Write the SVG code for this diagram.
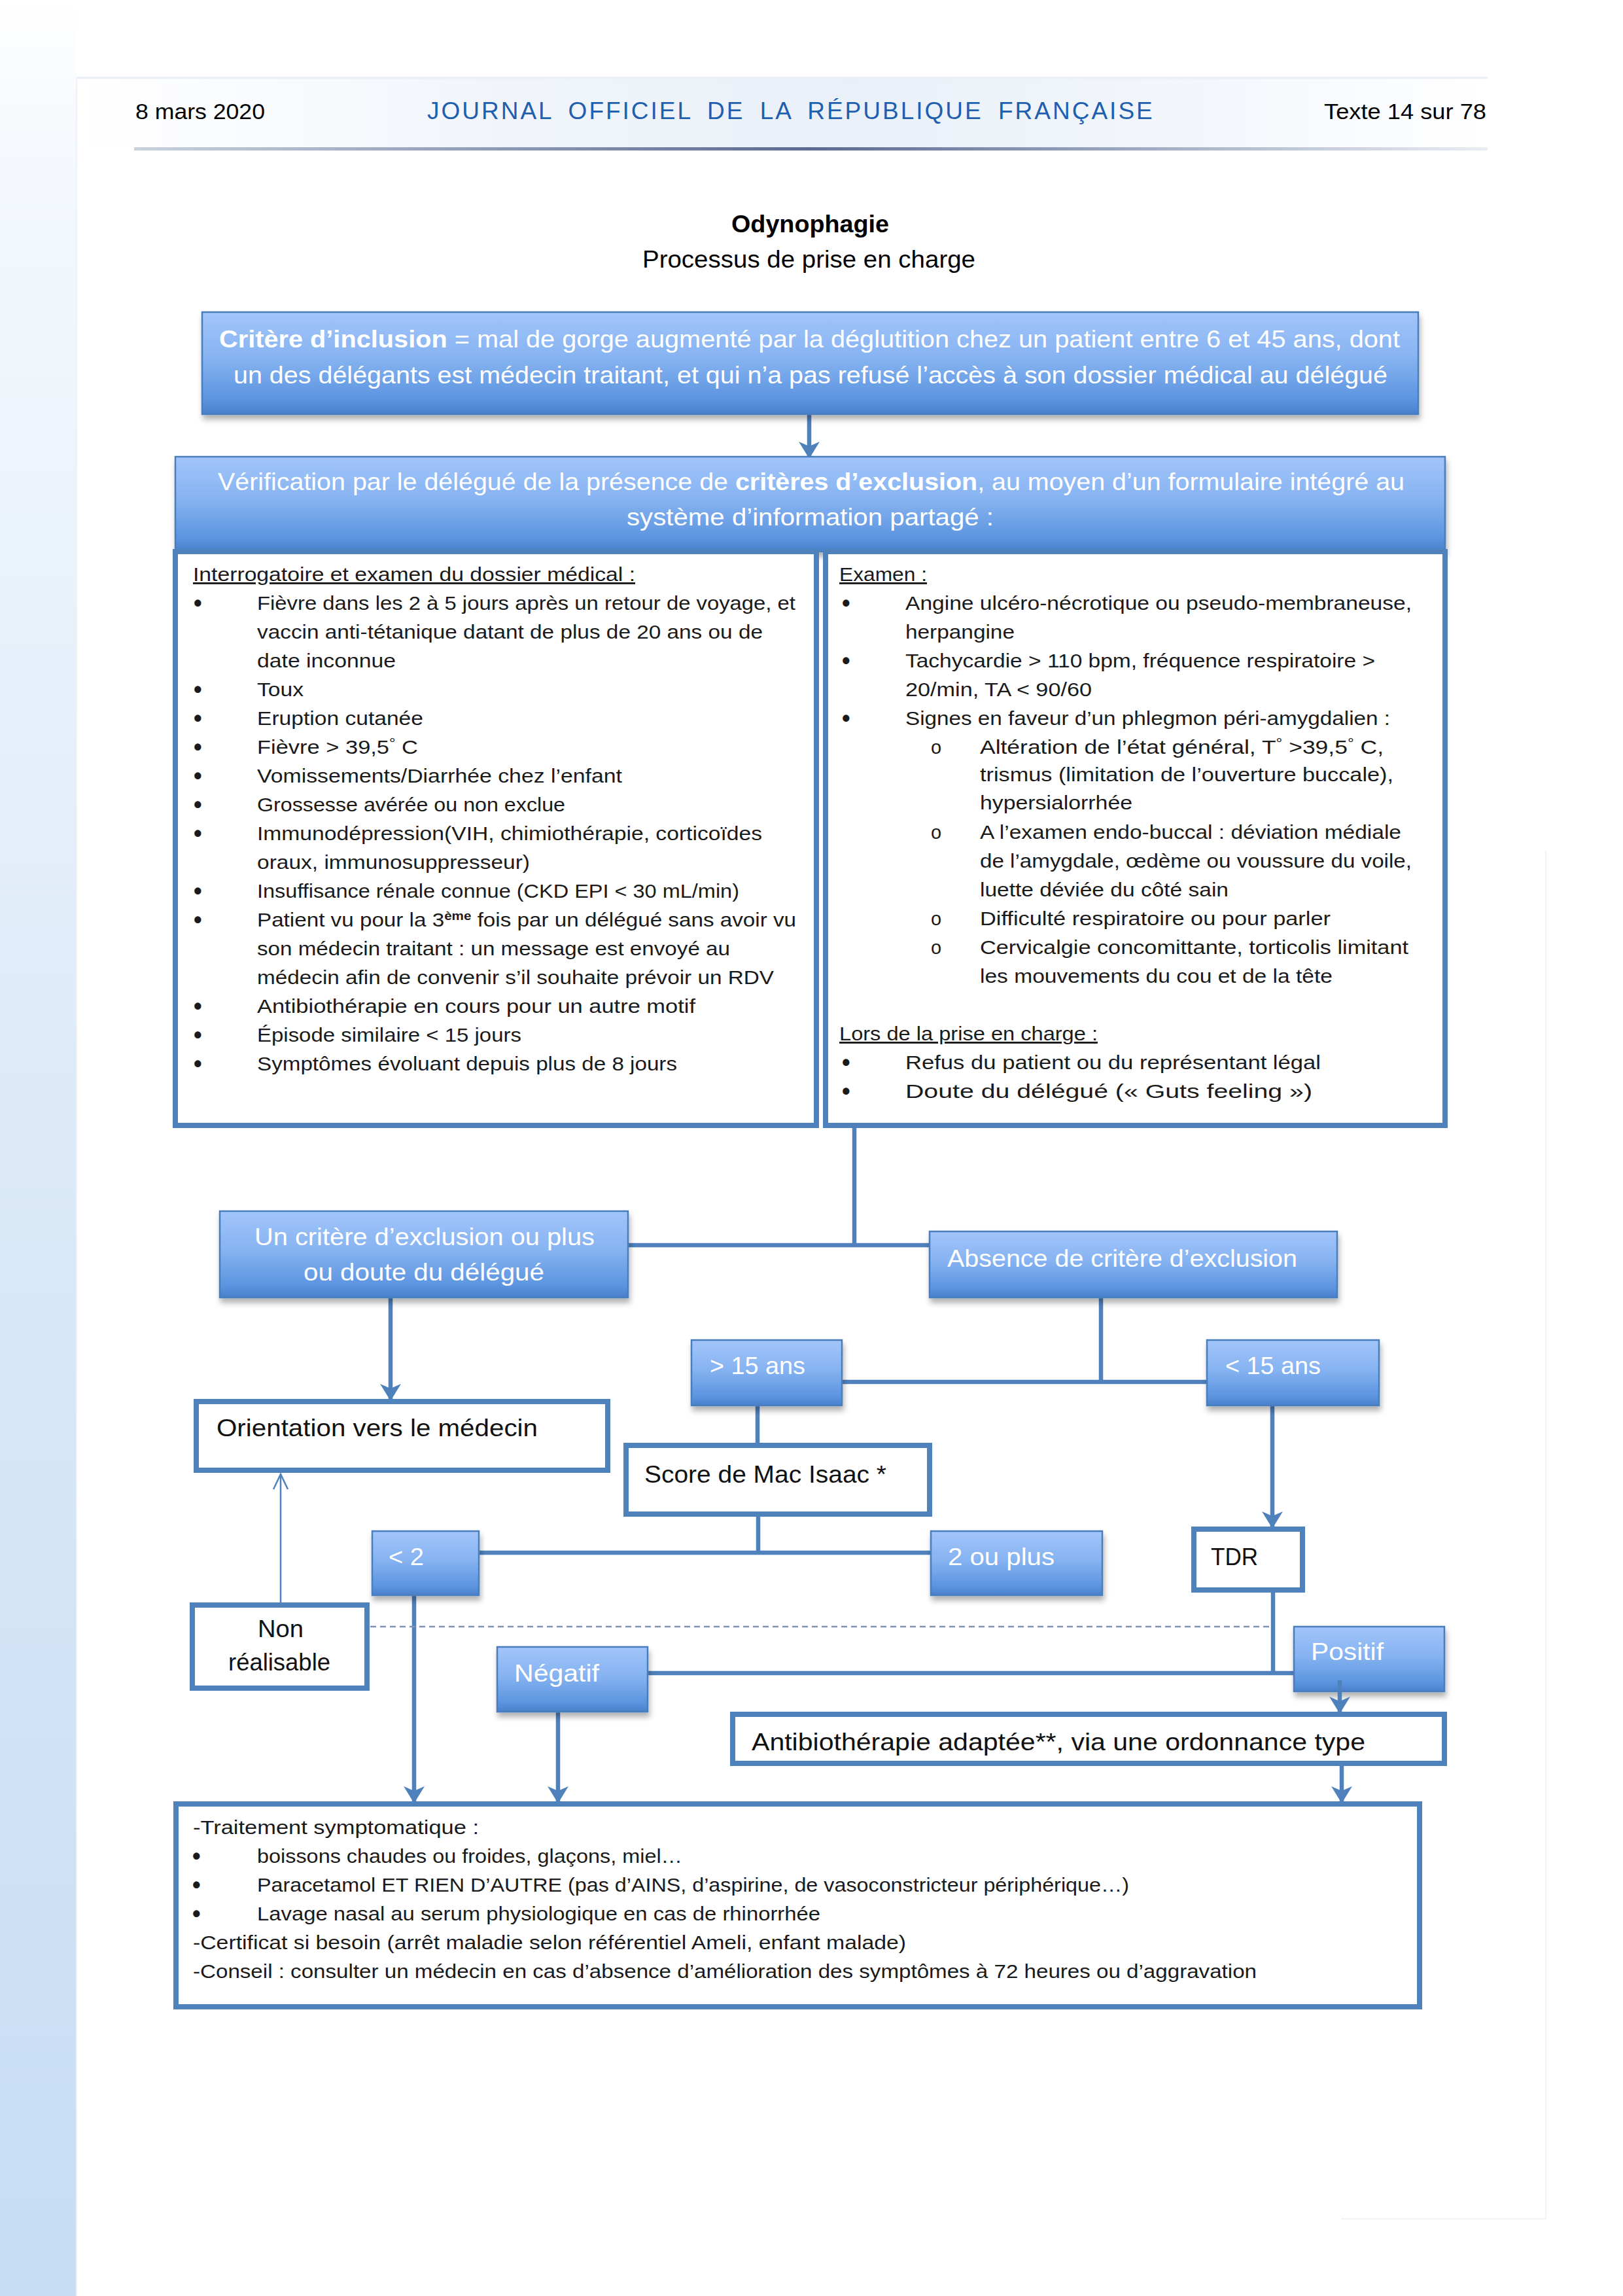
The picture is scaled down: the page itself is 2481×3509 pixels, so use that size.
<svg xmlns="http://www.w3.org/2000/svg" width="2481" height="3509" viewBox="0 0 2481 3509">
<defs>
  <linearGradient id="gBlue" x1="0" y1="0" x2="0" y2="1">
    <stop offset="0" stop-color="#a2c5fa"/>
    <stop offset="0.45" stop-color="#86b3f1"/>
    <stop offset="0.85" stop-color="#5d95e0"/>
    <stop offset="1" stop-color="#4a80cc"/>
  </linearGradient>
  <linearGradient id="gStrip" x1="0" y1="0" x2="0" y2="1">
    <stop offset="0" stop-color="#ffffff"/>
    <stop offset="0.06" stop-color="#f5f9fd"/>
    <stop offset="0.5" stop-color="#dbe9f8"/>
    <stop offset="1" stop-color="#c6ddf4"/>
  </linearGradient>
  <linearGradient id="gRule" x1="0" y1="0" x2="1" y2="0">
    <stop offset="0" stop-color="#c9d1dc"/>
    <stop offset="0.5" stop-color="#5c6a92"/>
    <stop offset="1" stop-color="#e9edf3"/>
  </linearGradient>
  <linearGradient id="gHead" x1="0" y1="0" x2="1" y2="0">
    <stop offset="0" stop-color="#ffffff"/>
    <stop offset="0.3" stop-color="#f1f5fb"/>
    <stop offset="0.55" stop-color="#eaf0f8"/>
    <stop offset="0.8" stop-color="#f3f7fc"/>
    <stop offset="1" stop-color="#ffffff"/>
  </linearGradient>
  <filter id="shadow" x="-5%" y="-10%" width="110%" height="130%">
    <feDropShadow dx="2" dy="7" stdDeviation="4" flood-color="#000000" flood-opacity="0.3"/>
  </filter>
  <marker id="arrow" markerUnits="userSpaceOnUse" markerWidth="26" markerHeight="32" viewBox="0 0 26 32" refX="25" refY="16" orient="auto">
    <path d="M0,0 L26,16 L0,32 L7,16 z" fill="#4f81bd"/>
  </marker>
  <marker id="arrowThin" markerUnits="userSpaceOnUse" markerWidth="26" markerHeight="24" viewBox="0 0 26 24" refX="24" refY="12" orient="auto">
    <path d="M1,1 L24,12 L1,23" fill="none" stroke="#4f81bd" stroke-width="2.5"/>
  </marker>
</defs>
<style>
  .f{font-family:"Liberation Sans",Arial,sans-serif}
  .gbox{fill:url(#gBlue);stroke:#4a7dbb;stroke-width:2.5;filter:url(#shadow)}
  .wbox{fill:#ffffff;stroke:#4f81bd;stroke-width:8}
  .conn{stroke:#4f81bd;stroke-width:6.5;fill:none}
  .wt{fill:#ffffff;font-size:37px}
  .lbl{fill:#111111;font-size:37px}
  .li{fill:#1a1a1a;font-size:29px}
  .bu{font-size:36px;font-weight:bold}
  .ul{text-decoration:underline}
</style>

<g id="page">
  <rect x="0" y="0" width="2481" height="3509" fill="#ffffff"/>
  <rect x="0" y="0" width="117" height="3509" fill="url(#gStrip)"/>
  <rect x="117" y="119" width="2157" height="106" fill="url(#gHead)"/>
  <line x1="117" y1="119" x2="2274" y2="119" stroke="#e9eef4" stroke-width="3"/>
  <line x1="117" y1="119" x2="117" y2="3509" stroke="#eef3f8" stroke-width="2"/>
  <path d="M2363,1300 L2363,3391 L2050,3391" fill="none" stroke="#f1f4f7" stroke-width="2"/>
  <rect x="205" y="225" width="2069" height="5" fill="url(#gRule)"/>
</g>

<g id="header" class="f">
  <text x="207" y="182" font-size="34" fill="#000" textLength="198" lengthAdjust="spacingAndGlyphs">8  mars 2020</text>
  <text x="653" y="182" font-size="37" fill="#1f5fb0" letter-spacing="3" word-spacing="10">JOURNAL OFFICIEL DE LA RÉPUBLIQUE FRANÇAISE</text>
  <text x="2024" y="182" font-size="34" fill="#000" textLength="248" lengthAdjust="spacingAndGlyphs">Texte 14 sur 78</text>
</g>

<g id="title" class="f">
  <text x="1118" y="355" font-size="36" font-weight="bold" fill="#000" textLength="241" lengthAdjust="spacingAndGlyphs">Odynophagie</text>
  <text x="982" y="409" font-size="36" fill="#000" textLength="509" lengthAdjust="spacingAndGlyphs">Processus de prise en charge</text>
</g>

<g id="connectors">
  <line class="conn" x1="1237" y1="633" x2="1237" y2="700" marker-end="url(#arrow)"/>
  <polyline class="conn" points="1306,1720 1306,1903"/>
  <line class="conn" x1="961" y1="1903" x2="1421" y2="1903"/>
  <line class="conn" x1="597" y1="1983" x2="597" y2="2140" marker-end="url(#arrow)"/>
  <line class="conn" x1="1683" y1="1983" x2="1683" y2="2112"/>
  <line class="conn" x1="1287" y1="2112" x2="1845" y2="2112"/>
  <line class="conn" x1="1158" y1="2148" x2="1158" y2="2209"/>
  <line class="conn" x1="1945" y1="2148" x2="1945" y2="2335" marker-end="url(#arrow)"/>
  <line class="conn" x1="1159" y1="2314" x2="1159" y2="2373"/>
  <line class="conn" x1="732" y1="2373" x2="1423" y2="2373"/>
  <line class="conn" x1="633" y1="2438" x2="633" y2="2755" marker-end="url(#arrow)"/>
  <line class="conn" x1="1946" y1="2430" x2="1946" y2="2557"/>
  <line class="conn" x1="990" y1="2557" x2="1978" y2="2557"/>
  <line class="conn" x1="853" y1="2616" x2="853" y2="2755" marker-end="url(#arrow)"/>
  <line class="conn" x1="2051" y1="2695" x2="2051" y2="2755" marker-end="url(#arrow)"/>
  <line x1="429" y1="2453" x2="429" y2="2253" stroke="#4f81bd" stroke-width="2.5" marker-end="url(#arrowThin)"/>
  <line x1="566" y1="2486" x2="1946" y2="2486" stroke="#7f93b5" stroke-width="2.5" stroke-dasharray="9 6"/>
</g>

<g id="inclusion" class="f">
  <rect class="gbox" x="309" y="477" width="1859" height="156"/>
  <text class="wt" x="335" y="531" textLength="1805" lengthAdjust="spacingAndGlyphs"><tspan font-weight="bold">Critère d’inclusion</tspan> = mal de gorge augmenté par la déglutition chez un patient entre 6 et 45 ans, dont</text>
  <text class="wt" x="357" y="586" textLength="1764" lengthAdjust="spacingAndGlyphs">un des délégants est médecin traitant, et qui n’a pas refusé l’accès à son dossier médical au délégué</text>
</g>

<g id="verification" class="f">
  <rect class="gbox" x="268" y="698" width="1941" height="145"/>
  <text class="wt" x="333" y="749" textLength="1814" lengthAdjust="spacingAndGlyphs">Vérification par le délégué de la présence de <tspan font-weight="bold">critères d’exclusion</tspan>, au moyen d’un formulaire intégré au</text>
  <text class="wt" x="958" y="803" textLength="561" lengthAdjust="spacingAndGlyphs">système d’information partagé :</text>
</g>

<g id="interrogatoire" class="f">
  <rect class="wbox" x="268" y="843" width="980" height="877"/>
  <text class="li ul" x="295" y="888" textLength="676" lengthAdjust="spacingAndGlyphs">Interrogatoire et examen du dossier médical :</text>
  <g class="li">
    <g class="bu">
      <text x="296" y="934">•</text>
      <text x="296" y="1066">•</text>
      <text x="296" y="1110">•</text>
      <text x="296" y="1154">•</text>
      <text x="296" y="1198">•</text>
      <text x="296" y="1242">•</text>
      <text x="296" y="1286">•</text>
      <text x="296" y="1374">•</text>
      <text x="296" y="1418">•</text>
      <text x="296" y="1550">•</text>
      <text x="296" y="1594">•</text>
      <text x="296" y="1638">•</text>
    </g>
    <text x="393" y="932" textLength="823" lengthAdjust="spacingAndGlyphs">Fièvre dans les 2 à 5 jours après un retour de voyage, et</text>
    <text x="393" y="976" textLength="773" lengthAdjust="spacingAndGlyphs">vaccin anti-tétanique datant de plus de 20 ans ou de</text>
    <text x="393" y="1020" textLength="212" lengthAdjust="spacingAndGlyphs">date inconnue</text>
    <text x="393" y="1064" textLength="71" lengthAdjust="spacingAndGlyphs">Toux</text>
    <text x="393" y="1108" textLength="254" lengthAdjust="spacingAndGlyphs">Eruption cutanée</text>
    <text x="393" y="1152" textLength="246" lengthAdjust="spacingAndGlyphs">Fièvre &gt; 39,5<tspan dy="-9" font-size="20">°</tspan><tspan dy="9">   C</tspan></text>
    <text x="393" y="1196" textLength="558" lengthAdjust="spacingAndGlyphs">Vomissements/Diarrhée chez l’enfant</text>
    <text x="393" y="1240" textLength="471" lengthAdjust="spacingAndGlyphs">Grossesse avérée ou non exclue</text>
    <text x="393" y="1284" textLength="772" lengthAdjust="spacingAndGlyphs">Immunodépression(VIH, chimiothérapie, corticoïdes</text>
    <text x="393" y="1328" textLength="417" lengthAdjust="spacingAndGlyphs">oraux, immunosuppresseur)</text>
    <text x="393" y="1372" textLength="737" lengthAdjust="spacingAndGlyphs">Insuffisance rénale connue (CKD EPI &lt; 30 mL/min)</text>
    <text x="393" y="1416" textLength="824" lengthAdjust="spacingAndGlyphs">Patient vu pour la 3<tspan dy="-10" font-size="18" font-weight="bold">ème</tspan><tspan dy="10"> fois par un délégué sans avoir vu</tspan></text>
    <text x="393" y="1460" textLength="723" lengthAdjust="spacingAndGlyphs">son médecin traitant : un message est envoyé au</text>
    <text x="393" y="1504" textLength="790" lengthAdjust="spacingAndGlyphs">médecin afin de convenir s’il souhaite prévoir un RDV</text>
    <text x="393" y="1548" textLength="670" lengthAdjust="spacingAndGlyphs">Antibiothérapie en cours pour un autre motif</text>
    <text x="393" y="1592" textLength="404" lengthAdjust="spacingAndGlyphs">Épisode similaire &lt; 15 jours</text>
    <text x="393" y="1636" textLength="642" lengthAdjust="spacingAndGlyphs">Symptômes évoluant depuis plus de 8 jours</text>
  </g>
</g>

<g id="examen" class="f">
  <rect class="wbox" x="1262" y="843" width="947" height="877"/>
  <text class="li ul" x="1283" y="888" textLength="134" lengthAdjust="spacingAndGlyphs">Examen :</text>
  <g class="li">
    <g class="bu">
      <text x="1287" y="934">•</text>
      <text x="1287" y="1022">•</text>
      <text x="1287" y="1110">•</text>
      <text x="1287" y="1636">•</text>
      <text x="1287" y="1680">•</text>
    </g>
    <text x="1384" y="932" textLength="774" lengthAdjust="spacingAndGlyphs">Angine ulcéro-nécrotique ou pseudo-membraneuse,</text>
    <text x="1384" y="976" textLength="167" lengthAdjust="spacingAndGlyphs">herpangine</text>
    <text x="1384" y="1020" textLength="718" lengthAdjust="spacingAndGlyphs">Tachycardie &gt; 110 bpm, fréquence respiratoire &gt;</text>
    <text x="1384" y="1064" textLength="285" lengthAdjust="spacingAndGlyphs">20/min, TA &lt; 90/60</text>
    <text x="1384" y="1108" textLength="741" lengthAdjust="spacingAndGlyphs">Signes en faveur d’un phlegmon péri-amygdalien :</text>
    <text x="1423" y="1152">o</text>
    <text x="1498" y="1152" textLength="617" lengthAdjust="spacingAndGlyphs">Altération de l’état général, T<tspan dy="-9" font-size="20">°</tspan><tspan dy="9">   &gt;39,5</tspan><tspan dy="-9" font-size="20">°</tspan><tspan dy="9">   C,</tspan></text>
    <text x="1498" y="1194" textLength="632" lengthAdjust="spacingAndGlyphs">trismus (limitation de l’ouverture buccale),</text>
    <text x="1498" y="1237" textLength="233" lengthAdjust="spacingAndGlyphs">hypersialorrhée</text>
    <text x="1423" y="1282">o</text>
    <text x="1498" y="1282" textLength="644" lengthAdjust="spacingAndGlyphs">A l’examen endo-buccal : déviation médiale</text>
    <text x="1498" y="1326" textLength="660" lengthAdjust="spacingAndGlyphs">de l’amygdale, œdème ou voussure du voile,</text>
    <text x="1498" y="1370" textLength="380" lengthAdjust="spacingAndGlyphs">luette déviée du côté sain</text>
    <text x="1423" y="1414">o</text>
    <text x="1498" y="1414" textLength="536" lengthAdjust="spacingAndGlyphs">Difficulté respiratoire ou pour parler</text>
    <text x="1423" y="1458">o</text>
    <text x="1498" y="1458" textLength="655" lengthAdjust="spacingAndGlyphs">Cervicalgie concomittante, torticolis limitant</text>
    <text x="1498" y="1502" textLength="539" lengthAdjust="spacingAndGlyphs">les mouvements du cou et de la tête</text>
  </g>
  <text class="li ul" x="1283" y="1590" textLength="395" lengthAdjust="spacingAndGlyphs">Lors de la prise en charge :</text>
  <g class="li">
    <text x="1384" y="1634" textLength="635" lengthAdjust="spacingAndGlyphs">Refus du patient ou du représentant légal</text>
    <text x="1384" y="1678" textLength="622" lengthAdjust="spacingAndGlyphs">Doute du délégué (« Guts feeling »)</text>
  </g>
</g>

<g id="exclusion-oui" class="f">
  <rect class="gbox" x="336" y="1851" width="624" height="132"/>
  <text class="wt" x="389" y="1903" textLength="520" lengthAdjust="spacingAndGlyphs">Un critère d’exclusion ou plus</text>
  <text class="wt" x="464" y="1957" textLength="368" lengthAdjust="spacingAndGlyphs">ou doute du délégué</text>
</g>

<g id="exclusion-absence" class="f">
  <rect class="gbox" x="1421" y="1882" width="623" height="101"/>
  <text class="wt" x="1448" y="1936" textLength="535" lengthAdjust="spacingAndGlyphs">Absence de critère d’exclusion</text>
</g>

<g id="plus15" class="f">
  <rect class="gbox" x="1057" y="2048" width="230" height="100"/>
  <text class="wt" x="1085" y="2100" textLength="146" lengthAdjust="spacingAndGlyphs">&gt; 15 ans</text>
</g>

<g id="moins15" class="f">
  <rect class="gbox" x="1845" y="2048" width="263" height="100"/>
  <text class="wt" x="1873" y="2100" textLength="146" lengthAdjust="spacingAndGlyphs">&lt; 15 ans</text>
</g>

<g id="orientation" class="f">
  <rect class="wbox" x="300" y="2142" width="629" height="105"/>
  <text class="lbl" x="331" y="2195" textLength="491" lengthAdjust="spacingAndGlyphs">Orientation vers le médecin</text>
</g>

<g id="score" class="f">
  <rect class="wbox" x="957" y="2209" width="464" height="105"/>
  <text class="lbl" x="985" y="2266" textLength="370" lengthAdjust="spacingAndGlyphs">Score de Mac Isaac *</text>
</g>

<g id="moins2" class="f">
  <rect class="gbox" x="569" y="2340" width="163" height="98"/>
  <text class="wt" x="594" y="2392" textLength="54" lengthAdjust="spacingAndGlyphs">&lt; 2</text>
</g>

<g id="deuxplus" class="f">
  <rect class="gbox" x="1423" y="2340" width="262" height="98"/>
  <text class="wt" x="1449" y="2392" textLength="163" lengthAdjust="spacingAndGlyphs">2 ou plus</text>
</g>

<g id="tdr" class="f">
  <rect class="wbox" x="1825" y="2337" width="166" height="93"/>
  <text class="lbl" x="1851" y="2392" textLength="72" lengthAdjust="spacingAndGlyphs">TDR</text>
</g>

<g id="nonrealisable" class="f">
  <rect class="wbox" x="294" y="2453" width="267" height="127"/>
  <text class="lbl" x="394" y="2502" textLength="70" lengthAdjust="spacingAndGlyphs">Non</text>
  <text class="lbl" x="349" y="2553" textLength="156" lengthAdjust="spacingAndGlyphs">réalisable</text>
</g>

<g id="negatif" class="f">
  <rect class="gbox" x="760" y="2517" width="230" height="99"/>
  <text class="wt" x="786" y="2570" textLength="130" lengthAdjust="spacingAndGlyphs">Négatif</text>
</g>

<g id="positif" class="f">
  <rect class="gbox" x="1978" y="2486" width="230" height="99"/>
  <text class="wt" x="2004" y="2537" textLength="111" lengthAdjust="spacingAndGlyphs">Positif</text>
</g>

<g id="positif-arrow">
  <line class="conn" x1="2048" y1="2568" x2="2048" y2="2618" marker-end="url(#arrow)"/>
</g>

<g id="antibiotherapie" class="f">
  <rect class="wbox" x="1120" y="2620" width="1088" height="75"/>
  <text class="lbl" x="1149" y="2675" textLength="938" lengthAdjust="spacingAndGlyphs">Antibiothérapie adaptée**, via une ordonnance type</text>
</g>

<g id="traitement" class="f">
  <rect class="wbox" x="269" y="2757" width="1901" height="310"/>
  <g class="li">
    <g class="bu">
      <text x="294" y="2849">•</text>
      <text x="294" y="2893">•</text>
      <text x="294" y="2937">•</text>
    </g>
    <text x="295" y="2803" textLength="437" lengthAdjust="spacingAndGlyphs">-Traitement symptomatique :</text>
    <text x="393" y="2847" textLength="650" lengthAdjust="spacingAndGlyphs">boissons chaudes ou froides, glaçons, miel…</text>
    <text x="393" y="2891" textLength="1333" lengthAdjust="spacingAndGlyphs">Paracetamol ET RIEN D’AUTRE (pas d’AINS, d’aspirine, de vasoconstricteur périphérique…)</text>
    <text x="393" y="2935" textLength="861" lengthAdjust="spacingAndGlyphs">Lavage nasal au serum physiologique en cas de rhinorrhée</text>
    <text x="295" y="2979" textLength="1090" lengthAdjust="spacingAndGlyphs">-Certificat si besoin (arrêt maladie selon référentiel Ameli, enfant malade)</text>
    <text x="295" y="3023" textLength="1626" lengthAdjust="spacingAndGlyphs">-Conseil : consulter un médecin en cas d’absence d’amélioration des symptômes à 72 heures ou d’aggravation</text>
  </g>
</g>
</svg>
